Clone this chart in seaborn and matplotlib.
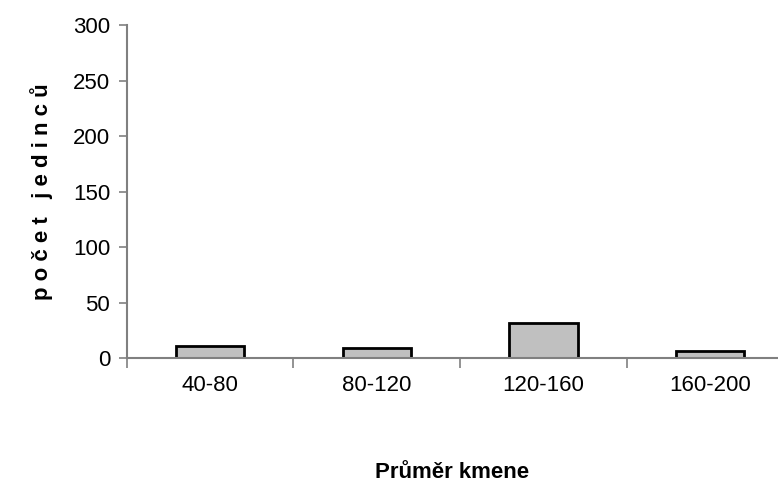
import matplotlib
matplotlib.use("Agg")
import matplotlib.pyplot as plt
import seaborn as sns
import pandas as pd

categories = ["40-80", "80-120", "120-160", "160-200"]
counts = [11, 9, 32, 6]
y_ticks = [0, 50, 100, 150, 200, 250, 300]

sns.set_style("white")
plt.rcParams['font.family'] = ['Liberation Sans', 'DejaVu Sans']
plt.rcParams['text.color'] = 'black'
plt.rcParams['axes.labelcolor'] = 'black'
plt.rcParams['xtick.labelcolor'] = 'black'
plt.rcParams['ytick.labelcolor'] = 'black'

df = pd.DataFrame({"cat": categories, "n": counts})

fig = plt.figure(figsize=(7.78, 5.03), dpi=100)
ax = fig.add_axes([0.163, 0.288, 0.837, 0.662])
sns.barplot(data=df, x="cat", y="n", color="#c0c0c0", saturation=1,
            edgecolor="black", linewidth=2, width=0.41, ax=ax)

ax.set_ylim(0, 300)
ax.set_xlim(-0.5, 3.408)
ax.set_yticks(y_ticks)
ax.set_yticklabels([str(v) for v in y_ticks], fontsize=16, color='black')
ax.set_xticks(range(len(categories)))
ax.set_xticklabels(categories, fontsize=16, color='black')
ax.set_xticks([-0.5, 0.5, 1.5, 2.5], minor=True)
ax.tick_params(axis='x', which='major', length=0, pad=12)
ax.tick_params(axis='x', which='minor', length=7, width=1.2, color='#808080', direction='out', bottom=True)
ax.tick_params(axis='y', length=6, width=1.2, color='#808080', direction='out', left=True, pad=6)

for s in ["top", "right"]:
    ax.spines[s].set_visible(False)
for s in ["left", "bottom"]:
    ax.spines[s].set_color('#808080')
    ax.spines[s].set_linewidth(1.5)

ax.set_ylabel("p o č e t   j e d i n c ů", fontsize=16, fontweight='bold', labelpad=14, color='black')
ax.set_xlabel("Průměr kmene", fontsize=16, fontweight='bold', labelpad=48, color='black')

fig.savefig("out.png", dpi=100)
